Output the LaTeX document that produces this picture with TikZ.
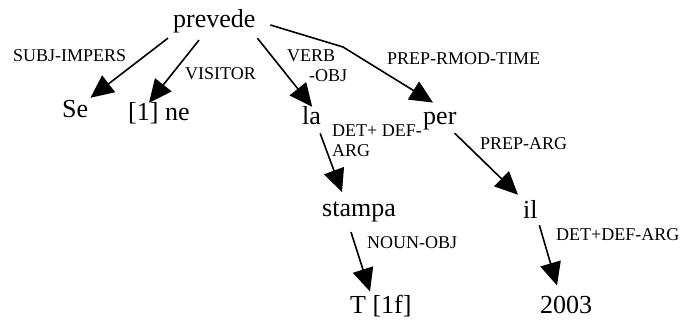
\documentclass[tikz,border=0pt]{standalone}
\usepackage{fontspec}
\setmainfont{Liberation Serif}
\usetikzlibrary{arrows.meta}

\tikzset{
  word/.style={font=\fontsize{26}{30}\selectfont, inner sep=0pt, anchor=base west},
  rel/.style={font=\fontsize{18}{20}\selectfont, inner sep=0pt, anchor=base west, align=left},
  dep/.style={line width=1.6pt, -{Triangle[length=23pt,width=21pt]}}
}

\begin{document}
\begin{tikzpicture}[x=1pt, y=-1pt]
  \useasboundingbox (0,0) rectangle (682,323);
  % words
  \node[word] (prevede) at (173,28) {prevede};
  \node[word] (se) at (62,118) {Se};
  \node[word] (ne) at (128,121) {[1] ne};
  \node[word] (la) at (302,125) {la};
  \node[word] (per) at (423,125) {per};
  \node[word] (stampa) at (322,216) {stampa};
  \node[word] (il) at (523,218) {il};
  \node[word] (tf) at (350,313) {T [1f]};
  \node[word] (year) at (540,313) {2003};
  % relation labels
  \node[rel] (subj) at (13,62) {SUBJ-IMPERS};
  \node[rel] (visitor) at (185,80) {VISITOR};
  \node[rel] (verbobj) at (287,82) {VERB\\\hspace*{22pt}-OBJ};
  \node[rel] (rmod) at (387,65) {PREP-RMOD-TIME};
  \node[rel] (detla) at (332,157) {DET+ DEF-\\ARG};
  \node[rel] (prepinarg) at (480,150) {PREP-ARG};
  \node[rel] (nounobj) at (367,248) {NOUN-OBJ};
  \node[rel] (detil) at (556,240) {DET+DEF-ARG};
  % dependencies
  \coordinate (bend) at (343,47);
  \draw[dep] ([shift={(-5,4.4)}]prevede.south west) -- ([shift={(2,-2.8)}]se.north east);
  \draw[dep] ([shift={(26,6.4)}]prevede.south west) -- ([shift={(21,0)}]ne.north west);
  \draw[dep] ([shift={(1.7,4.4)}]prevede.south east) -- ([shift={(0.6,0)}]la.north);
  \draw[dep] ([shift={(14.7,-3)}]prevede.base east) -- (bend) -- ([shift={(10,-10)}]per.north west);
  \draw[dep] ([shift={(-1,8)}]la.south east) -- ([shift={(20,-9)}]stampa.north west);
  \draw[dep] ([shift={(-2,2.4)}]per.south east) -- ([shift={(-5,-5)}]il.north west);
  \draw[dep] ([shift={(29,10.4)}]stampa.south west) -- ([shift={(20,-3)}]tf.north west);
  \draw[dep] ([shift={(1.5,7)}]il.south east) -- ([shift={(17,-10)}]year.north west);
\end{tikzpicture}
\end{document}
